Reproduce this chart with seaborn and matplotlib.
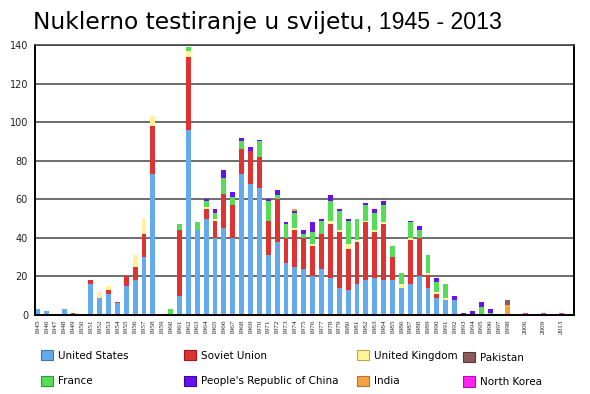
import numpy as np
import pandas as pd
import seaborn as sns
import matplotlib
matplotlib.use("Agg")
import matplotlib.pyplot as plt
from matplotlib.patches import Patch

# ---------------- data ----------------
years = [str(y) for y in range(1945, 1999)] + ["2006", "2009", "2013"]

us = [3, 2, 0, 3, 0, 0, 16, 9, 11, 6,
      15, 18, 30, 73, 0, 0, 10, 96, 44, 50,
      40, 45, 40, 73, 68, 66, 31, 38, 27, 25,
      24, 20, 24, 19, 14, 13, 16, 18, 19, 18,
      18, 14, 16, 20, 14, 9, 8, 8, 0, 0,
      0, 0, 0, 0,
      0, 0, 0]
ussr = [0, 0, 0, 0, 1, 0, 2, 0, 2, 1,
        5, 7, 12, 25, 0, 0, 34, 38, 0, 5,
        9, 18, 17, 13, 17, 16, 18, 22, 13, 19,
        16, 16, 18, 28, 29, 21, 22, 30, 24, 29,
        12, 0, 23, 20, 7, 2, 0, 0, 0, 0,
        0, 0, 0, 0,
        0, 0, 0]
uk = [0, 0, 0, 0, 0, 0, 0, 3, 2, 0,
      0, 6, 8, 5, 0, 0, 0, 3, 0, 1,
      1, 0, 0, 0, 0, 0, 0, 0, 0, 1,
      0, 1, 0, 2, 1, 3, 1, 1, 1, 1,
      0, 2, 1, 0, 1, 1, 1, 0, 0, 0,
      0, 0, 0, 0,
      0, 0, 0]
france = [0, 0, 0, 0, 0, 0, 0, 0, 0, 0,
          0, 0, 0, 0, 0, 3, 3, 2, 4, 3,
          3, 8, 4, 4, 0, 8, 10, 2, 7, 8,
          2, 6, 7, 10, 10, 12, 11, 8, 9, 9,
          6, 6, 8, 4, 9, 5, 7, 0, 0, 0,
          4, 1, 0, 0,
          0, 0, 0]
china = [0, 0, 0, 0, 0, 0, 0, 0, 0, 0,
         0, 0, 0, 0, 0, 0, 0, 0, 0, 1,
         2, 4, 3, 2, 2, 1, 1, 3, 1, 1,
         2, 5, 1, 3, 1, 1, 0, 1, 2, 2,
         0, 0, 1, 2, 0, 2, 0, 2, 1, 2,
         3, 2, 0, 0,
         0, 0, 0]
india = {"1974": 1, "1998": 5}
pakistan = {"1998": 3}
north_korea = {"2006": 1, "2009": 1, "2013": 1}

countries = ["United States", "Soviet Union", "United Kingdom", "France",
             "People's Republic of China", "India", "Pakistan", "North Korea"]
colors = ["#66aaee", "#dd3333", "#fff39a", "#55dd55",
          "#6611ee", "#f5a142", "#8b5a5a", "#ff22ee"]
edge_colors = ["#3a78b8", "#a01818", "#b8a850", "#2f9a2f",
               "#3a0799", "#b8742a", "#5a3636", "#b010a8"]

series = [us, ussr, uk, france, china,
          [india.get(y, 0) for y in years],
          [pakistan.get(y, 0) for y in years],
          [north_korea.get(y, 0) for y in years]]

df = pd.DataFrame(dict(zip(countries, series)))
df.insert(0, "year", years)
cum = df[countries].cumsum(axis=1)

# category order with empty slots between the last sparse years
order = [str(y) for y in range(1945, 1999)] + ["_g1", "2006", "_g2", "2009", "_g3", "2013"]
tick_labels = [("" if o.startswith("_") else o) for o in order]

# ---------------- figure ----------------
W, H = 590, 394
fig = plt.figure(figsize=(W / 100, H / 100), dpi=100)
fig.patch.set_facecolor("white")
ax = fig.add_axes([35 / W, 1 - 315 / H, (574 - 35) / W, (315 - 45) / H])

for i in reversed(range(len(countries))):
    sns.barplot(x=df["year"], y=cum[countries[i]], order=order, color=colors[i],
                saturation=1, width=0.55, errorbar=None, ax=ax, linewidth=0)

ax.set_xlim(-0.28, 60.45)
ax.set_ylim(0, 140)
ax.set_yticks(range(0, 141, 20))
ax.set_xticks(range(len(order)))
ax.set_xticklabels(tick_labels, rotation=90, fontfamily="Liberation Serif", fontsize=5.2,
                   color="#222222")
ax.tick_params(axis="x", length=0, pad=3.5)
ax.tick_params(axis="y", length=0, pad=5, labelsize=7, labelcolor="#222222")
ax.set_xlabel("")
ax.set_ylabel("")
ax.grid(axis="y", color="#555555", linewidth=1.2)
ax.grid(axis="x", visible=False)
ax.set_axisbelow(True)
for s in ["left", "right", "bottom"]:
    ax.spines[s].set_color("black")
    ax.spines[s].set_linewidth(1.4)
ax.spines["top"].set_color("#444444")
ax.spines["top"].set_linewidth(1.2)

# ---------------- title ----------------
t1 = fig.text(33 / W, 1 - 29 / H, "Nuklerno testiranje u svijetu", fontsize=16,
              fontfamily="DejaVu Sans", va="baseline", ha="left", color="black")
fig.canvas.draw()
r = fig.canvas.get_renderer()
bb = t1.get_window_extent(r)
t1.set_fontsize(16 * (365 - 33) / bb.width)
fig.canvas.draw()
bb = t1.get_window_extent(r)
t2 = fig.text((bb.x1 + 2) / W, 1 - 29 / H, ", 1945 - 2013", fontsize=15,
              fontfamily="Liberation Sans", va="baseline", ha="left", color="black")
fig.canvas.draw()
bb2 = t2.get_window_extent(r)
t2.set_fontsize(15 * (503 - bb2.x0) / bb2.width)

# ---------------- legend ----------------
handles = [Patch(facecolor=c, edgecolor=e, linewidth=0.8, label=n)
           for c, e, n in zip(colors, edge_colors, countries)]
cols = [(41 / W, [0, 3]), (184 / W, [1, 4]), (357 / W, [2, 5]), (463 / W, [6, 7])]
for x, idx in cols:
    ytop = 350 if idx[0] != 6 else 352
    fig.legend(handles=[handles[k] for k in idx], loc="upper left",
               bbox_to_anchor=(x, 1 - ytop / H), frameon=False, borderpad=0,
               borderaxespad=0, fontsize=7.5, handlelength=1.15, handleheight=1.15,
               handletextpad=0.45, labelspacing=1.45 if idx[0] != 6 else 1.3)

fig.savefig("out.png", dpi=100, facecolor="white")
